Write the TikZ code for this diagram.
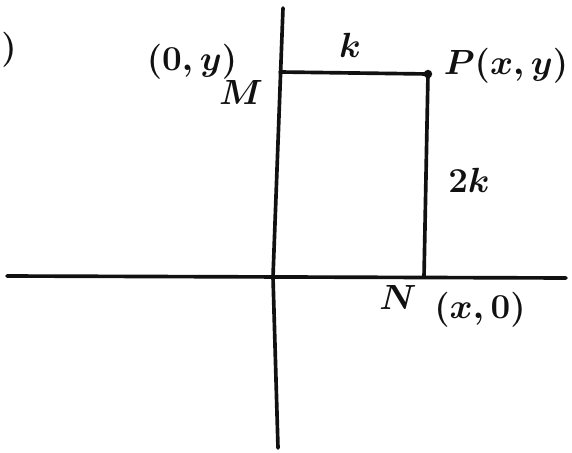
\documentclass[tikz,border=0pt]{standalone}
\usepackage{amsmath,amssymb}
\usepackage{xcolor}
\usepackage{tikz}
\definecolor{ink}{HTML}{111111}
\tikzset{fig/.style={line join=round,line cap=round,x=0.025cm,y=-0.025cm},
  axisln/.style={ink,line width=2.6pt},
  lbl/.style={ink,font=\Huge\boldmath,inner sep=0pt}}

\begin{document}
\begin{tikzpicture}[fig]
  \useasboundingbox(0,0)rectangle(572,453);
  % axes and the rectangle O M P N
  \coordinate(xl)at(7,276);\coordinate(xr)at(566,278);\coordinate(yt)at(283,8);\coordinate(yb)at(278,448);
  \coordinate(O)at(273,277);\coordinate(M)at(280,72);\coordinate(P)at(428,74);\coordinate(N)at(424,277);
  \draw[axisln](xl)--(xr);\draw[axisln](yt)--(O)--(yb);
  \draw[axisln](M)--(P)--(N);\fill[ink](P)circle[radius=3pt];
  % labels
  \node[lbl,anchor=west](cut)at(1,50){$)$};
  \node[lbl](My)at(192,62){$(0,y)$};\node[lbl](Mname)at(241,92){$M$};
  \node[lbl](klbl)at(350,45){$k$};\node[lbl](Pname)at(506,66){$P(x,y)$};
  \node[lbl](twok)at(469,180){$2k$};
  \node[lbl](Nname)at(398,297){$N$};\node[lbl](Nx)at(480,310){$(x,0)$};
\end{tikzpicture}
\end{document}
